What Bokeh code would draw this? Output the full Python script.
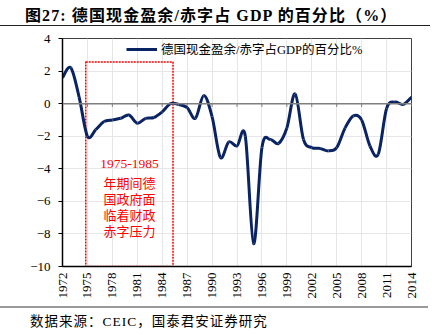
import math
from bokeh.plotting import figure
from bokeh.models import FixedTicker, Span, Legend, LegendItem, Div
from bokeh.layouts import column
from bokeh.core.properties import value
from bokeh.embed import file_html
from bokeh.resources import INLINE

# ---------------- data ----------------
years = list(range(1972, 2015))
balance = [1.6, 2.2, 0.4, -2.0, -1.6, -1.1, -1.0, -0.9, -0.7, -1.2,
           -0.9, -0.85, -0.5, 0.0, -0.05, -0.25, -0.9, 0.5, -0.8, -3.3,
           -2.35, -2.6, -2.0, -8.6, -2.7, -2.2, -2.45, -1.5, 0.6, -2.2,
           -2.7, -2.75, -2.9, -2.7, -1.5, -0.75, -1.0, -2.6, -3.1, -0.3,
           0.1, -0.05, 0.4]
tick_years = list(range(1972, 2015, 3))
y_ticks = [-10, -8, -6, -4, -2, 0, 2, 4]
series_name = "德国现金盈余/赤字占GDP的百分比%"
title_text = "图27: 德国现金盈余/赤字占 GDP 的百分比（%）"
source_text = "数据来源：CEIC，国泰君安证券研究"
period_years = [1974.8, 1985.3]
period_top = 2.55
note_head = "1975-1985"
note_lines = ["年期间德", "国政府面", "临着财政", "赤字压力"]

SERIF_CJK = "Liberation Serif, Noto Sans CJK SC"
LINE_COLOR = "#0A2463"

# smoothed curve (Catmull-Rom style Bezier control points from the data)
n = len(years)
x0, y0, x1, y1, cx0, cy0, cx1, cy1 = ([] for _ in range(8))
for i in range(n - 1):
    im1 = max(i - 1, 0)
    ip2 = min(i + 2, n - 1)
    x0.append(years[i]); y0.append(balance[i])
    x1.append(years[i + 1]); y1.append(balance[i + 1])
    cx0.append(years[i] + (years[i + 1] - years[im1]) / 6)
    cy0.append(balance[i] + (balance[i + 1] - balance[im1]) / 6)
    cx1.append(years[i + 1] - (years[ip2] - years[i]) / 6)
    cy1.append(balance[i + 1] - (balance[ip2] - balance[i]) / 6)

p = figure(width=443, height=278, x_range=(1972, 2014), y_range=(-10, 4),
           output_backend="svg", toolbar_location=None,
           min_border_left=62, min_border_right=32, min_border_top=10,
           min_border_bottom=40)
p.background_fill_color = "white"
p.border_fill_color = "white"
p.outline_line_color = "#404040"
p.outline_line_width = 1

p.xaxis.ticker = FixedTicker(ticks=tick_years)
p.xaxis.major_label_orientation = math.pi / 2
p.xaxis.major_tick_out = 0
p.xaxis.major_tick_in = 0
p.xaxis.minor_tick_out = 0
p.xaxis.minor_tick_in = 0
p.xaxis.major_label_standoff = 6
p.yaxis.ticker = FixedTicker(ticks=y_ticks)
p.yaxis.major_tick_out = 4
p.yaxis.major_tick_in = 0
p.yaxis.minor_tick_out = 0
p.yaxis.minor_tick_in = 0
p.yaxis.major_label_standoff = 8
for ax in (p.xaxis, p.yaxis):
    ax.axis_line_color = "black"
    ax.axis_line_width = 1.5
    ax.major_tick_line_color = "black"
    ax.major_label_text_font = "Liberation Serif"
    ax.major_label_text_font_size = "13px"
    ax.major_label_text_color = "black"

p.xgrid.ticker = FixedTicker(ticks=tick_years)
p.ygrid.ticker = FixedTicker(ticks=y_ticks)
p.xgrid.grid_line_color = "#E6E6E6"
p.ygrid.grid_line_color = "#E6E6E6"

# zero line with ticks
p.add_layout(Span(location=0, dimension="width", line_color="#7F7F7F", line_width=1.5))
p.segment(x0=tick_years, y0=[0] * len(tick_years), x1=tick_years,
          y1=[-0.2] * len(tick_years), line_color="#7F7F7F", line_width=1)

# highlighted period box and note
p.quad(left=[period_years[0]], right=[period_years[1]], bottom=[-10], top=[period_top],
       fill_alpha=0, line_color="#FF0000", line_dash="2 1", line_width=1.5)
mid = (period_years[0] + period_years[1]) / 2
p.text(x=[mid], y=[-3.72], text=[note_head], text_align="center",
       text_baseline="middle", text_color="#FF0000",
       text_font=value("Liberation Serif"), text_font_size="13.5px")
p.text(x=[mid] * len(note_lines),
       y=[-4.83 - 0.98 * i for i in range(len(note_lines))],
       text=note_lines, text_align="center",
       text_baseline="middle", text_color="#FF0000",
       text_font=value("Noto Sans CJK SC"), text_font_size="13px")

r = p.bezier(x0=x0, y0=y0, x1=x1, y1=y1, cx0=cx0, cy0=cy0, cx1=cx1, cy1=cy1,
             line_color=LINE_COLOR, line_width=3)

legend = Legend(items=[LegendItem(label=series_name, renderers=[r])],
                location=(64, 208), padding=0, margin=0, spacing=0,
                glyph_width=31, glyph_height=16, label_height=16,
                label_standoff=4, border_line_color=None,
                background_fill_alpha=0,
                label_text_font=SERIF_CJK, label_text_font_size="12.5px",
                label_text_color="black")
p.add_layout(legend)

title_div = Div(
    text=('<div style="width:430px;height:26px;border-bottom:1.2px solid #222;'
          'box-sizing:border-box;padding-left:25px;line-height:32px;white-space:nowrap;'
          "font-weight:bold;font-size:16px;letter-spacing:1.1px;"
          "font-family:'Liberation Serif','Noto Sans CJK SC';"
          'color:black">' + title_text + '</div>'),
    width=443, height=28, margin=(0, 0, 0, 0))
source_div = Div(
    text=('<div style="width:428px;height:29px;border-top:2px solid #9A9A9A;'
          'box-sizing:border-box;padding-left:30px;line-height:28px;white-space:nowrap;'
          "font-size:13.5px;letter-spacing:1px;"
          "font-family:'Liberation Serif','Noto Sans CJK SC';"
          'color:black">' + source_text + '</div>'),
    width=443, height=29, margin=(0, 0, 0, 0))

layout = column(title_div, p, source_div, spacing=0)
open("out.html", "w").write(file_html(layout, INLINE))
